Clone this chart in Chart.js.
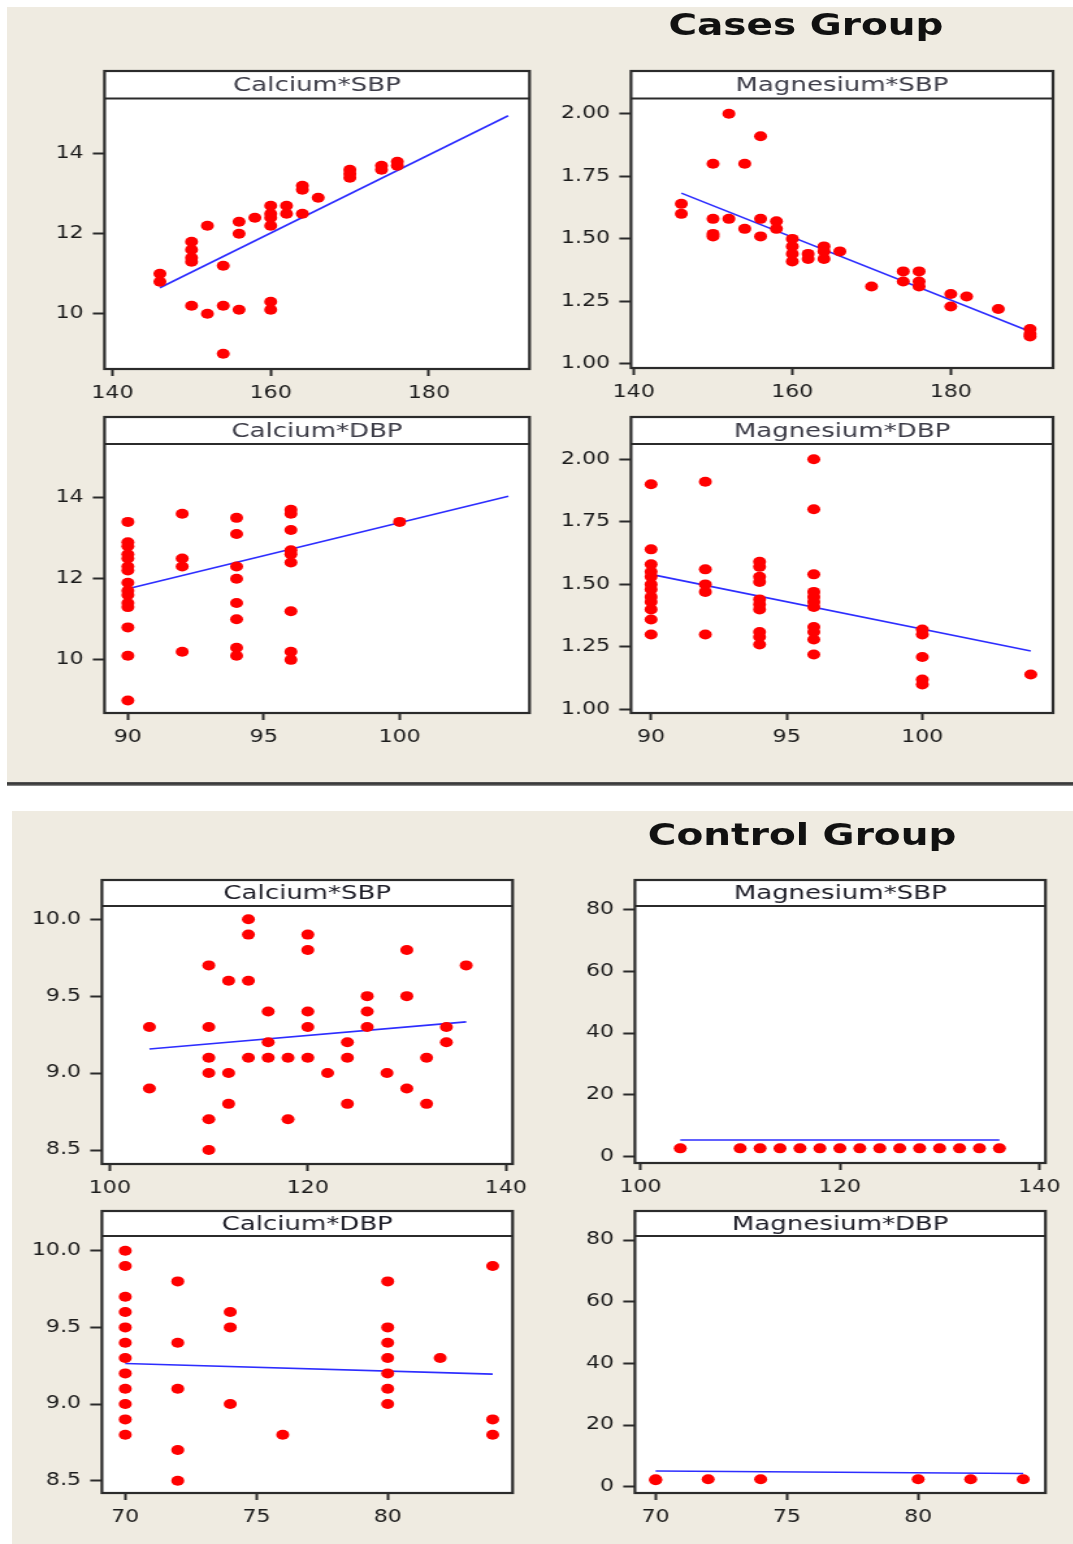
<!DOCTYPE html>
<html>
<head>
<meta charset="utf-8">
<title>Calcium and magnesium against blood pressure</title>
<script src="https://cdn.jsdelivr.net/npm/chart.js@4.4.1/dist/chart.umd.min.js"></script>
<style>
  html, body { margin: 0; padding: 0; background: #ffffff; }
  body { width: 1073px; height: 1544px; position: relative; overflow: hidden; }
  .bg { position: absolute; background: #efebe1; }
  #bgTop { left: 7px; top: 7px; width: 1066px; height: 775px; }
  #bgBottom { left: 12px; top: 811px; width: 1061px; height: 733px; }
  #rule { position: absolute; left: 7px; top: 782px; width: 1066px; height: 4px;
          background: linear-gradient(#5c5c5c, #2e2e2e 50%, #9c9c9c); }
  /* everything on the sheet is drawn narrow and stretched sideways */
  #sheet { position: absolute; left: 0; top: 0; width: 826px; height: 1544px;
           transform: scaleX(1.3); transform-origin: 0 0; }
  #sheet canvas { position: absolute; }
  .group-title { position: absolute; width: 400px; text-align: center; color: #111;
                 font: bold 30px/30px "DejaVu Sans", sans-serif; white-space: nowrap; }
  #casesTitle { left: 420px; top: 10px; }
  #controlTitle { left: 417px; top: 820px; }
</style>
</head>
<body>
<div class="bg" id="bgTop"></div>
<div id="rule"></div>
<div class="bg" id="bgBottom"></div>
<div id="sheet">
  <div class="group-title" id="casesTitle">Cases Group</div>
  <div class="group-title" id="controlTitle">Control Group</div>
</div>
<script>
// tick labels
const sbpCasesTicks = ['140', '160', '180'];
const dbpCasesTicks = ['90', '95', '100'];
const caCasesTicks = ['10', '12', '14'];
const mgCasesTicks = ['1.00', '1.25', '1.50', '1.75', '2.00'];
const sbpControlTicks = ['100', '120', '140'];
const dbpControlTicks = ['70', '75', '80'];
const caControlTicks = ['8.5', '9.0', '9.5', '10.0'];
const mgControlTicks = ['0', '20', '40', '60', '80'];

// cases: calcium vs SBP
const casesCaSbpX = [146, 146, 150, 150, 150, 150, 152, 150, 152, 154, 154, 154, 156, 156, 156, 158,
  160, 160, 160, 160, 160, 160, 162, 162, 164, 164, 164, 166, 170, 170, 170, 174, 174, 176, 176];
const casesCaSbpY = [11.0, 10.8, 11.8, 11.6, 11.4, 11.3, 12.2, 10.2, 10.0, 11.2, 10.2, 9.0, 12.3, 12.0, 10.1, 12.4,
  12.7, 12.5, 12.4, 12.2, 10.3, 10.1, 12.7, 12.5, 13.2, 13.1, 12.5, 12.9, 13.6, 13.5, 13.4, 13.7, 13.6, 13.8, 13.7];
const casesCaSbpFitX = [146, 190];
const casesCaSbpFitY = [10.65, 14.95];

// cases: magnesium vs SBP
const casesMgSbpX = [152, 156, 150, 154, 146, 146, 150, 150, 150, 152, 154, 156, 156, 158, 158,
  160, 160, 160, 160, 162, 162, 164, 164, 164, 166, 170, 174, 174, 176, 176, 176, 180, 180, 182, 186, 190, 190, 190];
const casesMgSbpY = [2.00, 1.91, 1.80, 1.80, 1.64, 1.60, 1.58, 1.52, 1.51, 1.58, 1.54, 1.58, 1.51, 1.57, 1.54,
  1.50, 1.47, 1.44, 1.41, 1.44, 1.42, 1.47, 1.45, 1.42, 1.45, 1.31, 1.37, 1.33, 1.37, 1.33, 1.31, 1.28, 1.23, 1.27, 1.22, 1.14, 1.12, 1.11];
const casesMgSbpFitX = [146, 190];
const casesMgSbpFitY = [1.683, 1.13];

// cases: calcium vs DBP
const casesCaDbpX = [90, 90, 90, 90, 90, 90, 90, 90, 90, 90, 90, 90, 90, 90, 90,
  92, 92, 92, 92, 94, 94, 94, 94, 94, 94, 94, 94, 96, 96, 96, 96, 96, 96, 96, 96, 96, 100];
const casesCaDbpY = [13.4, 12.9, 12.8, 12.6, 12.5, 12.3, 12.2, 11.9, 11.7, 11.6, 11.4, 11.3, 10.8, 10.1, 9.0,
  13.6, 12.5, 12.3, 10.2, 13.5, 13.1, 12.3, 12.0, 11.4, 11.0, 10.3, 10.1, 13.7, 13.6, 13.2, 12.7, 12.6, 12.4, 11.2, 10.2, 10.0, 13.4];
const casesCaDbpFitX = [90, 104];
const casesCaDbpFitY = [11.75, 14.03];

// cases: magnesium vs DBP
const casesMgDbpX = [90, 90, 90, 90, 90, 90, 90, 90, 90, 90, 90, 90, 92, 92, 92, 92, 92,
  94, 94, 94, 94, 94, 94, 94, 94, 94, 94, 96, 96, 96, 96, 96, 96, 96, 96, 96, 96, 96, 100, 100, 100, 100, 100, 104];
const casesMgDbpY = [1.90, 1.64, 1.58, 1.55, 1.53, 1.50, 1.48, 1.45, 1.43, 1.40, 1.36, 1.30, 1.91, 1.56, 1.50, 1.47, 1.30,
  1.59, 1.57, 1.53, 1.51, 1.44, 1.42, 1.40, 1.31, 1.29, 1.26, 2.00, 1.80, 1.54, 1.47, 1.45, 1.43, 1.41, 1.33, 1.31, 1.28, 1.22,
  1.32, 1.30, 1.21, 1.12, 1.10, 1.14];
const casesMgDbpFitX = [90, 104];
const casesMgDbpFitY = [1.540, 1.234];

// control: calcium vs SBP
const controlCaSbpX = [104, 104, 110, 110, 110, 110, 110, 110, 112, 112, 112, 114, 114, 114, 114, 116, 116, 116, 118, 118,
  120, 120, 120, 120, 120, 122, 124, 124, 124, 126, 126, 126, 128, 130, 130, 130, 132, 132, 134, 134, 136];
const controlCaSbpY = [9.3, 8.9, 9.7, 9.3, 9.1, 9.0, 8.7, 8.5, 9.6, 9.0, 8.8, 10.0, 9.9, 9.6, 9.1, 9.4, 9.2, 9.1, 9.1, 8.7,
  9.9, 9.8, 9.4, 9.3, 9.1, 9.0, 9.2, 9.1, 8.8, 9.5, 9.4, 9.3, 9.0, 9.8, 9.5, 8.9, 9.1, 8.8, 9.3, 9.2, 9.7];
const controlCaSbpFitX = [104, 136];
const controlCaSbpFitY = [9.157, 9.333];

// control: magnesium vs SBP
const controlMgSbpX = [104, 110, 112, 114, 116, 118, 120, 122, 124, 126, 128, 130, 132, 134, 136];
const controlMgSbpY = [2.7, 2.7, 2.7, 2.7, 2.7, 2.7, 2.7, 2.7, 2.7, 2.7, 2.7, 2.7, 2.7, 2.7, 2.7];
const controlMgSbpFitX = [104, 136];
const controlMgSbpFitY = [5.4, 5.4];

// control: calcium vs DBP
const controlCaDbpX = [70, 70, 70, 70, 70, 70, 70, 70, 70, 70, 70, 70, 72, 72, 72, 72, 72, 74, 74, 74, 76,
  80, 80, 80, 80, 80, 80, 80, 82, 84, 84, 84];
const controlCaDbpY = [10.0, 9.9, 9.7, 9.6, 9.5, 9.4, 9.3, 9.2, 9.1, 9.0, 8.9, 8.8, 9.8, 9.4, 9.1, 8.7, 8.5, 9.6, 9.5, 9.0, 8.8,
  9.8, 9.5, 9.4, 9.3, 9.2, 9.1, 9.0, 9.3, 9.9, 8.9, 8.8];
const controlCaDbpFitX = [70, 84];
const controlCaDbpFitY = [9.265, 9.195];

// control: magnesium vs DBP
const controlMgDbpX = [70, 70, 72, 74, 80, 82, 84];
const controlMgDbpY = [2.1, 2.4, 2.4, 2.4, 2.4, 2.4, 2.4];
const controlMgDbpFitX = [70, 84];
const controlMgDbpFitY = [5.1, 4.3];

const S = 1.3;        // sideways stretch of #sheet
const PAD_L = 72;     // room for y tick labels (page px)
const PAD_R = 30;
const PAD_T = 3;
const PAD_B = 42;     // room for x tick labels
const CASES_INK = '#3d3d48';
const CONTROL_INK = '#1e1e28';

// box = [left, top, right, bottom, header bottom] of each framed panel, page px
const panels = [
  { title: 'Calcium*SBP', ink: CASES_INK, box: [104, 71, 529, 369, 98.5],
    xRange: [139.0, 192.7], yRange: [8.62, 15.38], xTicks: sbpCasesTicks, yTicks: caCasesTicks,
    xs: casesCaSbpX, ys: casesCaSbpY, fitX: casesCaSbpFitX, fitY: casesCaSbpFitY },
  { title: 'Magnesium*SBP', ink: CASES_INK, box: [631, 71, 1053, 368, 98.5],
    xRange: [139.65, 192.9], yRange: [0.984, 2.061], xTicks: sbpCasesTicks, yTicks: mgCasesTicks,
    xs: casesMgSbpX, ys: casesMgSbpY, fitX: casesMgSbpFitX, fitY: casesMgSbpFitY },
  { title: 'Calcium*DBP', ink: CASES_INK, box: [104, 417, 529, 713, 444],
    xRange: [89.14, 104.78], yRange: [8.69, 15.32], xTicks: dbpCasesTicks, yTicks: caCasesTicks,
    xs: casesCaDbpX, ys: casesCaDbpY, fitX: casesCaDbpFitX, fitY: casesCaDbpFitY },
  { title: 'Magnesium*DBP', ink: CASES_INK, box: [631, 417, 1053, 712.7, 444],
    xRange: [89.26, 104.82], yRange: [0.986, 2.061], xTicks: dbpCasesTicks, yTicks: mgCasesTicks,
    xs: casesMgDbpX, ys: casesMgDbpY, fitX: casesMgDbpFitX, fitY: casesMgDbpFitY },
  { title: 'Calcium*SBP', ink: CONTROL_INK, box: [102.3, 880, 513, 1164, 906],
    xRange: [99.2, 140.69], yRange: [8.409, 10.086], xTicks: sbpControlTicks, yTicks: caControlTicks,
    xs: controlCaSbpX, ys: controlCaSbpY, fitX: controlCaSbpFitX, fitY: controlCaSbpFitY },
  { title: 'Magnesium*SBP', ink: CONTROL_INK, box: [634.6, 880, 1045.2, 1163, 906],
    xRange: [99.45, 140.62], yRange: [-2.04, 81.07], xTicks: sbpControlTicks, yTicks: mgControlTicks,
    xs: controlMgSbpX, ys: controlMgSbpY, fitX: controlMgSbpFitX, fitY: controlMgSbpFitY },
  { title: 'Calcium*DBP', ink: CONTROL_INK, box: [102.3, 1211, 513, 1493, 1236],
    xRange: [69.11, 84.76], yRange: [8.42, 10.096], xTicks: dbpControlTicks, yTicks: caControlTicks,
    xs: controlCaDbpX, ys: controlCaDbpY, fitX: controlCaDbpFitX, fitY: controlCaDbpFitY },
  { title: 'Magnesium*DBP', ink: CONTROL_INK, box: [634.6, 1211, 1045.2, 1493, 1236],
    xRange: [69.21, 84.85], yRange: [-2.04, 81.3], xTicks: dbpControlTicks, yTicks: mgControlTicks,
    xs: controlMgDbpX, ys: controlMgDbpY, fitX: controlMgDbpFitX, fitY: controlMgDbpFitY }
];

function toPoints(xs, ys) {
  return xs.map((x, i) => ({ x: x, y: ys[i] }));
}

// white panel with a boxed header strip holding the panel name
function framePlugin(p) {
  return {
    id: 'panelFrame',
    beforeDraw(chart) {
      const { ctx, chartArea: a } = chart;
      ctx.save();
      ctx.fillStyle = '#ffffff';
      ctx.fillRect(a.left, PAD_T, a.right - a.left, a.bottom - PAD_T);
      ctx.restore();
    },
    afterDraw(chart) {
      const { ctx, chartArea: a } = chart;
      ctx.save();
      ctx.strokeStyle = '#2b2b2b';
      ctx.lineWidth = 2.2;
      ctx.strokeRect(a.left, PAD_T, a.right - a.left, a.bottom - PAD_T);
      ctx.beginPath();
      ctx.moveTo(a.left, a.top);
      ctx.lineTo(a.right, a.top);
      ctx.stroke();
      ctx.fillStyle = p.ink;
      ctx.font = '20px "DejaVu Sans"';
      ctx.textAlign = 'center';
      ctx.textBaseline = 'middle';
      ctx.fillText(p.title, (a.left + a.right) / 2, (PAD_T + a.top) / 2 + 1);
      ctx.restore();
    }
  };
}

function axisOptions(range, labels, isX) {
  const tickFont = { family: 'DejaVu Sans', size: 17 };
  return {
    type: 'linear',
    min: range[0],
    max: range[1],
    afterBuildTicks: (scale) => { scale.ticks = labels.map(t => ({ value: Number(t) })); },
    afterFit: (scale) => {
      if (isX) scale.height = PAD_B;
      else scale.width = PAD_L / S;
    },
    border: { display: false },
    grid: { drawOnChartArea: false, drawTicks: true, tickLength: isX ? 7 : 9,
            tickWidth: 2, tickColor: '#2b2b2b', color: '#2b2b2b' },
    ticks: { padding: 7, color: '#1c1c1c', font: tickFont,
             autoSkip: false, maxRotation: 0, callback: (v, i) => labels[i] }
  };
}

function drawPanel(p) {
  const [L, T, R, B, H] = p.box;
  const innerW = (R - L + PAD_L) / S;
  const w = Math.ceil(innerW + PAD_R / S);
  const h = Math.round(B - T + PAD_T + PAD_B);
  const cv = document.createElement('canvas');
  cv.width = w;
  cv.height = h;
  cv.style.width = w + 'px';
  cv.style.height = h + 'px';
  cv.style.left = ((L - PAD_L) / S) + 'px';
  cv.style.top = (T - PAD_T) + 'px';
  document.getElementById('sheet').appendChild(cv);

  new Chart(cv, {
    type: 'scatter',
    data: {
      datasets: [
        {
          data: toPoints(p.xs, p.ys),
          pointRadius: 5,
          pointBackgroundColor: '#ff0000',
          pointBorderWidth: 0,
          order: 0
        },
        {
          data: toPoints(p.fitX, p.fitY),
          showLine: true,
          borderColor: '#2d2dff',
          borderWidth: 1.6,
          pointRadius: 0,
          order: 1
        }
      ]
    },
    options: {
      responsive: false,
      animation: false,
      events: [],
      layout: { padding: { top: H - T + PAD_T, right: w - innerW, left: 0, bottom: 0 } },
      plugins: { legend: { display: false }, tooltip: { enabled: false } },
      scales: {
        x: axisOptions(p.xRange, p.xTicks, true),
        y: axisOptions(p.yRange, p.yTicks, false)
      }
    },
    plugins: [framePlugin(p)]
  });
}

panels.forEach(drawPanel);
</script>
</body>
</html>
